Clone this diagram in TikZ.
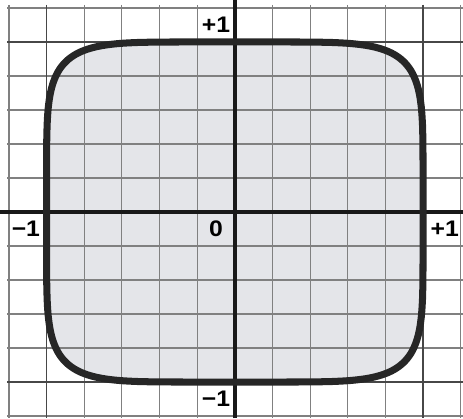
\documentclass[tikz,border=0pt]{standalone}
\usepackage{xcolor}
\usepackage{fontspec}
\setsansfont{Liberation Sans}
\usepackage{tikz}
\usetikzlibrary{positioning}
\definecolor{curvefill}{RGB}{228,229,233}

\begin{document}
\begin{tikzpicture}[x=4.705cm,y=4.25cm,
	grid line/.style={black!50,line width=0.8pt},
	unit line/.style={black!72,line width=1.2pt},
	axis line/.style={black!90,line width=2.5pt},
	curve line/.style={black!85,line width=5pt,line join=round},
	tick label/.style={font=\sffamily\bfseries\fontsize{16}{16}\selectfont,inner sep=0pt,xscale=1.1}]
			\useasboundingbox (-1.2476,-1.2118) rectangle (1.2125,1.247);
			
			% Fill
			\fill[curvefill] plot[domain=0.5:359.5,samples=360,variable=\t]
			({sign(cos(\t))*pow(abs(cos(\t)),1/3)},{sign(sin(\t))*pow(abs(sin(\t)),1/3)}) -- cycle;
			
			% Grid
			\foreach \i in {-6,...,6}
			{
				\draw[grid line] (\i/5,1.218) -- (\i/5,-1.2118);
				\draw[grid line] (-1.21,\i/5) -- (1.2125,\i/5);
			}
			\draw[unit line] (-1,1.218) -- (-1,-1.2118);
			\draw[unit line] (1,1.218) -- (1,-1.2118);
			\draw[unit line] (-1.21,1) -- (1.2125,1);
			\draw[unit line] (-1.21,-1) -- (1.2125,-1);
			
			% Axes
			\coordinate (xl) at (-1.2476,0);
			\coordinate (xr) at (1.2125,0);
			\coordinate (yt) at (0,1.247);
			\coordinate (yb) at (0,-1.2118);
			\draw[axis line] (xl) -- (xr);
			\draw[axis line] (yb) -- (yt);
			
			% Curve
			\draw[curve line] plot[domain=0.5:359.5,samples=360,variable=\t]
			({sign(cos(\t))*pow(abs(cos(\t)),1/3)},{sign(sin(\t))*pow(abs(sin(\t)),1/3)}) -- cycle;
			
			% Nodes
			\node[tick label] (origin) at (-0.1,-0.1) {0};
			\node[tick label] (ytop) at (-0.1,1.1) {+1};
			\node[tick label] (ybottom) at (-0.1,-1.1) {−1};
			\node[tick label] (xleft) at (-1.11,-0.1) {−1};
			\node[tick label] (xright) at (1.115,-0.1) {+1};
			
		\end{tikzpicture}
\end{document}
